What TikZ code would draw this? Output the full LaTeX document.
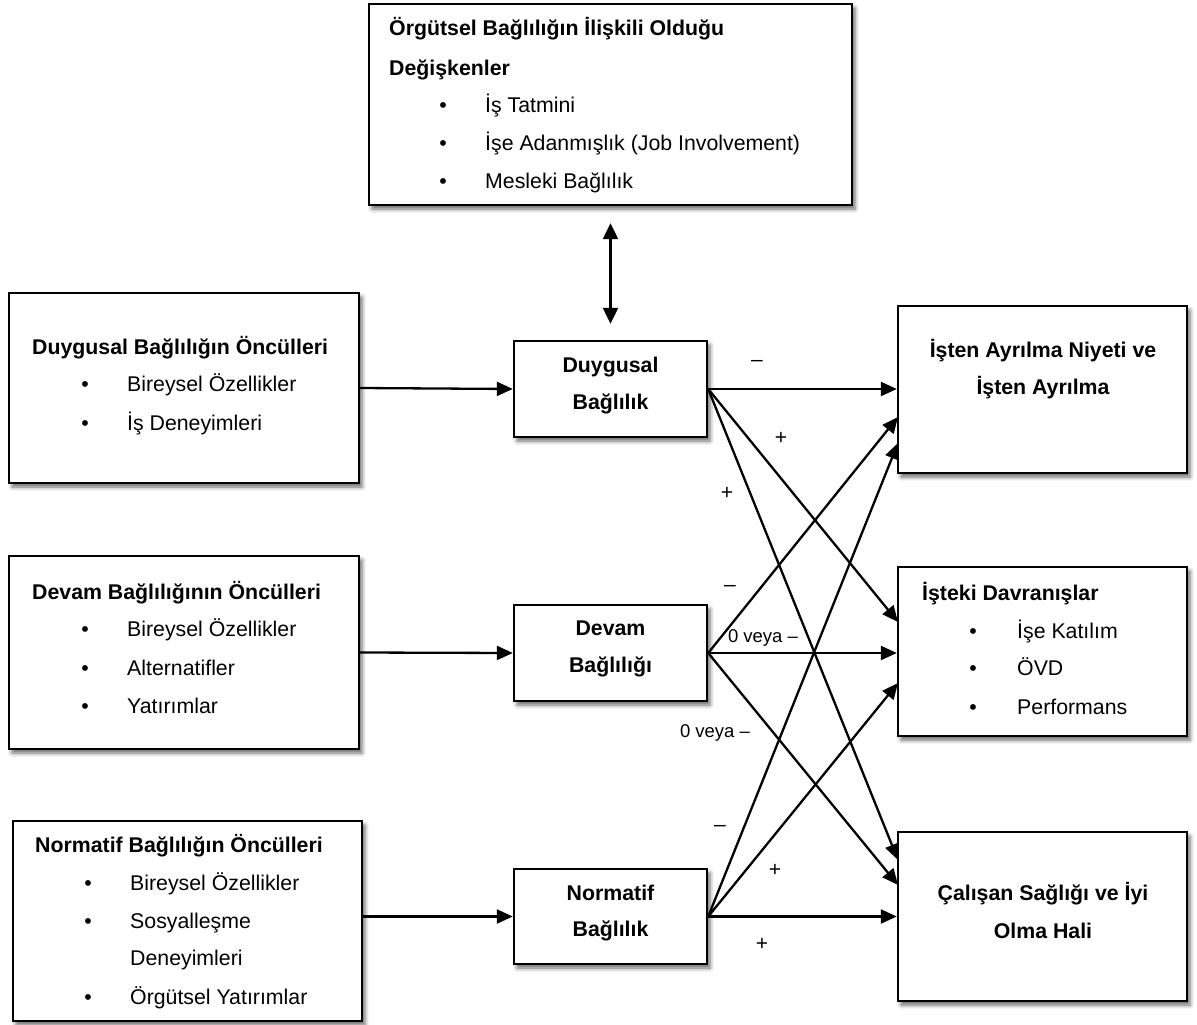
\documentclass[tikz,border=0pt]{standalone}
\usepackage{fontspec}
\setmainfont{Liberation Sans}
\usetikzlibrary{arrows.meta,shadows.blur}

\begin{document}
\begin{tikzpicture}[x=1pt,y=-1pt,
 box/.style={draw, line width=2.4pt, fill=white, inner sep=0pt, rectangle,
   blur shadow={shadow xshift=3pt, shadow yshift=-4pt, shadow blur radius=4pt, shadow opacity=60}},
 ttl/.style={font=\fontsize{21.3}{21.3}\selectfont\bfseries, anchor=base west, inner sep=0pt},
 itm/.style={font=\fontsize{21.3}{21.3}\selectfont, anchor=base west, inner sep=0pt},
 bul/.style={font=\fontsize{21.3}{21.3}\selectfont, anchor=base, inner sep=0pt},
 mid/.style={font=\fontsize{21.3}{21.3}\selectfont\bfseries, anchor=base, inner sep=0pt},
 lbl/.style={font=\fontsize{18.5}{18.5}\selectfont, inner sep=0pt},
 sgn/.style={font=\fontsize{21}{21}\selectfont, inner sep=0pt},
 arr/.style={line width=2.3pt, -{Triangle[length=16pt,width=14pt]}},
]
\useasboundingbox (0,0) rectangle (1197,1025);

% ---------- boxes ----------
\node[box, minimum width=483pt, minimum height=201pt] (top) at (610.5,104.5) {};
\node[box, minimum width=350pt, minimum height=190pt] (lb1) at (184,388) {};
\node[box, minimum width=350pt, minimum height=193pt] (lb2) at (184,652.5) {};
\node[box, minimum width=349pt, minimum height=200pt] (lb3) at (187.5,921) {};
\node[box, minimum width=193pt, minimum height=96pt] (dg) at (610.5,389) {};
\node[box, minimum width=193pt, minimum height=96pt] (dv) at (610.5,653) {};
\node[box, minimum width=193pt, minimum height=95pt] (nm) at (610.5,916.5) {};
\node[box, minimum width=289pt, minimum height=167pt] (r1) at (1042.5,389.5) {};
\node[box, minimum width=289pt, minimum height=169pt] (r2) at (1042.5,651.5) {};
\node[box, minimum width=289pt, minimum height=169pt] (r3) at (1042.5,916.5) {};

% ---------- top box text ----------
\node[ttl] (topt1) at (389,35.5) {Örgütsel Bağlılığın İlişkili Olduğu};
\node[ttl] (topt2) at (389,75.5) {Değişkenler};
\node[bul] (topb1) at (443,112.5) {•};
\node[itm] (topi1) at (485,112.5) {İş Tatmini};
\node[bul] (topb2) at (443,150.5) {•};
\node[itm] (topi2) at (485,150.5) {İşe Adanmışlık (Job Involvement)};
\node[bul] (topb3) at (443,188.5) {•};
\node[itm] (topi3) at (485,188.5) {Mesleki Bağlılık};

% ---------- left box 1 ----------
\node[ttl] (l1t) at (32,354.5) {Duygusal Bağlılığın Öncülleri};
\node[bul] (l1b1) at (85,391.5) {•};
\node[itm] (l1i1) at (127,391.5) {Bireysel Özellikler};
\node[bul] (l1b2) at (85,430.5) {•};
\node[itm] (l1i2) at (127,430.5) {İş Deneyimleri};

% ---------- left box 2 ----------
\node[ttl] (l2t) at (32,599.5) {Devam Bağlılığının Öncülleri};
\node[bul] (l2b1) at (85,636.5) {•};
\node[itm] (l2i1) at (127,636.5) {Bireysel Özellikler};
\node[bul] (l2b2) at (85,675.5) {•};
\node[itm] (l2i2) at (127,675.5) {Alternatifler};
\node[bul] (l2b3) at (85,713.5) {•};
\node[itm] (l2i3) at (127,713.5) {Yatırımlar};

% ---------- left box 3 ----------
\node[ttl] (l3t) at (35,852.5) {Normatif Bağlılığın Öncülleri};
\node[bul] (l3b1) at (88,890.5) {•};
\node[itm] (l3i1) at (130,890.5) {Bireysel Özellikler};
\node[bul] (l3b2) at (88,928.5) {•};
\node[itm] (l3i2) at (130,928.5) {Sosyalleşme};
\node[itm] (l3i3) at (130,965.5) {Deneyimleri};
\node[bul] (l3b4) at (88,1004.5) {•};
\node[itm] (l3i4) at (130,1004.5) {Örgütsel Yatırımlar};

% ---------- middle boxes ----------
\node[mid] (dgt1) at (610.5,372.5) {Duygusal};
\node[mid] (dgt2) at (610.5,409.5) {Bağlılık};
\node[mid] (dvt1) at (610.5,635.5) {Devam};
\node[mid] (dvt2) at (610.5,672.5) {Bağlılığı};
\node[mid] (nmt1) at (610.5,900.5) {Normatif};
\node[mid] (nmt2) at (610.5,936.5) {Bağlılık};

% ---------- right boxes ----------
\node[mid] (r1t1) at (1043,357.5) {İşten Ayrılma Niyeti ve};
\node[mid] (r1t2) at (1043,394.5) {İşten Ayrılma};
\node[ttl] (r2t) at (922,600.5) {İşteki Davranışlar};
\node[bul] (r2b1) at (973,638.5) {•};
\node[itm] (r2i1) at (1017,638.5) {İşe Katılım};
\node[bul] (r2b2) at (973,675.5) {•};
\node[itm] (r2i2) at (1017,675.5) {ÖVD};
\node[bul] (r2b3) at (973,714.5) {•};
\node[itm] (r2i3) at (1017,714.5) {Performans};
\node[mid] (r3t1) at (1043,900.5) {Çalışan Sağlığı ve İyi};
\node[mid] (r3t2) at (1043,938.5) {Olma Hali};

% ---------- arrow end points ----------
\coordinate (r1a) at (898,417);
\coordinate (r1b) at (898,443);
\coordinate (r2a) at (898,622);
\coordinate (r2c) at (898,683);
\coordinate (r3a) at (898,860);
\coordinate (r3b) at (898,885);

% ---------- connectors ----------
\draw[line width=2.3pt, {Triangle[length=16pt,width=15pt]}-{Triangle[length=16pt,width=15pt]},
      shorten <=17pt, shorten >=16pt] (top.south -| dg.north) -- (dg.north);

\draw[arr] (lb1.east) -- (dg.west);
\draw[arr] (lb2.east) -- (dv.west);
\draw[arr] (lb3.east |- nm.west) -- (nm.west);

\draw[arr] (dg.east) -- (r1.west |- dg.east);
\draw[arr] (dg.east) -- (r2a);
\draw[arr] (dg.east) -- (r3a);
\draw[arr] (dv.east) -- (r1a);
\draw[arr] (dv.east) -- (r2.west |- dv.east);
\draw[arr] (dv.east) -- (r3b);
\draw[arr] (nm.east) -- (r1b);
\draw[arr] (nm.east) -- (r2c);
\draw[arr] (nm.east) -- (r3.west |- nm.east);

% ---------- labels ----------
\node[sgn] (la1) at (757,363) {–};
\node[sgn] (la2) at (781,438) {+};
\node[sgn] (la3) at (727,493) {+};
\node[sgn] (la4) at (730,588) {–};
\node[lbl] (la5) at (763,638) {0 veya –};
\node[lbl] (la6) at (715,733) {0 veya –};
\node[sgn] (la7) at (720,828) {–};
\node[sgn] (la8) at (775,870) {+};
\node[sgn] (la9) at (762,944) {+};
\end{tikzpicture}
\end{document}
